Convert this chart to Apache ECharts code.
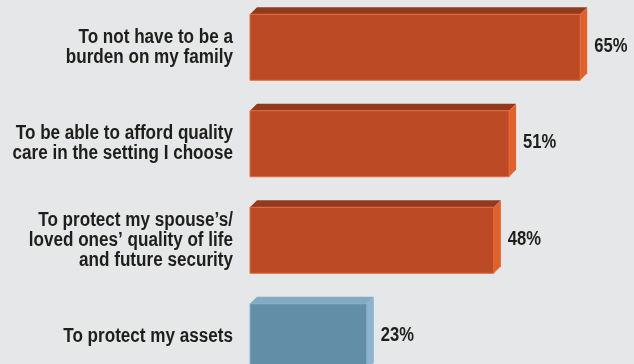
<!DOCTYPE html>
<html>
<head>
<meta charset="utf-8">
<script src="https://cdn.jsdelivr.net/npm/echarts@6/dist/echarts.min.js"></script>
<style>
  html, body { margin: 0; padding: 0; background: #e6e7e8; }
  #chart { width: 634px; height: 364px; }
</style>
</head>
<body>
<div id="chart"></div>
<script>
// Reasons for planning long-term care (share of respondents, %)
const categories = [
  'To not have to be a\nburden on my family',
  'To be able to afford quality\ncare in the setting I choose',
  'To protect my spouse\u2019s/\nloved ones\u2019 quality of life\nand future security',
  'To protect my assets'
];
const values = [65, 51, 48, 23];
const valueLabels = ['65%', '51%', '48%', '23%'];

// Bold sans, horizontally condensed to get a narrow face
const FONT = 'bold 20px "Liberation Sans", Arial, sans-serif';
const NARROW_CAT = 0.855;
const NARROW_VAL = 0.83;
const TEXT_COLOR = '#1e1e1c';

// Face colours for the extruded bars
const TONES = {
  orange: { front: '#bb4a25', top: '#933a1c', side: '#e2612a', edge: '#e36a3c' },
  blue:   { front: '#638ea8', top: '#86a9c2', side: '#8cb4d0', edge: '#8ab0c9' }
};

const chart = echarts.init(document.getElementById('chart'), null, { renderer: 'canvas' });

const seriesData = values.map((v, i) => [v, i]);

function renderBar(params, api) {
  const val = api.value(0);
  const cat = api.value(1);
  const i = params.dataIndex;
  const tone = i === values.length - 1 ? TONES.blue : TONES.orange;
  const base = api.coord([0, cat]);
  const end = api.coord([val, cat]);
  const band = api.size([0, 1])[1];
  const h = band * 0.684;
  const d = 7;
  const x0 = base[0], x1 = end[0], yc = base[1];
  const y0 = yc - h / 2, y1 = yc + h / 2;
  return {
    type: 'group',
    children: [
      { type: 'polygon', shape: { points: [[x0, y0], [x0 + d, y0 - d], [x1 + d, y0 - d], [x1, y0]] },
        style: { fill: tone.top } },
      { type: 'polygon', shape: { points: [[x1, y0], [x1 + d, y0 - d], [x1 + d, y1 - d], [x1, y1]] },
        style: { fill: tone.side } },
      { type: 'rect', shape: { x: x0, y: y0, width: x1 - x0, height: h },
        style: { fill: tone.front, stroke: tone.edge, lineWidth: 1 } },
      // value label to the right of the bar
      { type: 'text', x: x1 + 14, y: yc - 1, scaleX: NARROW_VAL,
        style: { text: valueLabels[i], fill: TEXT_COLOR, font: FONT,
                 align: 'left', verticalAlign: 'middle' } },
      // category label to the left of the bar
      { type: 'text', x: x0 - 17, y: yc, scaleX: NARROW_CAT,
        style: { text: categories[cat], fill: TEXT_COLOR, font: FONT, lineHeight: 20,
                 align: 'right', verticalAlign: 'middle' } }
    ]
  };
}

chart.setOption({
  backgroundColor: '#e6e7e8',
  animation: false,
  grid: { left: 250, right: 3, top: -1, bottom: -21, containLabel: false, outerBoundsMode: 'none' },
  xAxis: { type: 'value', min: 0, max: 75, show: false },
  yAxis: {
    type: 'category',
    data: categories,
    inverse: true,
    axisLine: { show: false },
    axisTick: { show: false },
    splitLine: { show: false },
    axisLabel: { show: false }
  },
  series: [{
    type: 'custom',
    renderItem: renderBar,
    encode: { x: 0, y: 1 },
    data: seriesData,
    clip: false
  }]
});
</script>
</body>
</html>
